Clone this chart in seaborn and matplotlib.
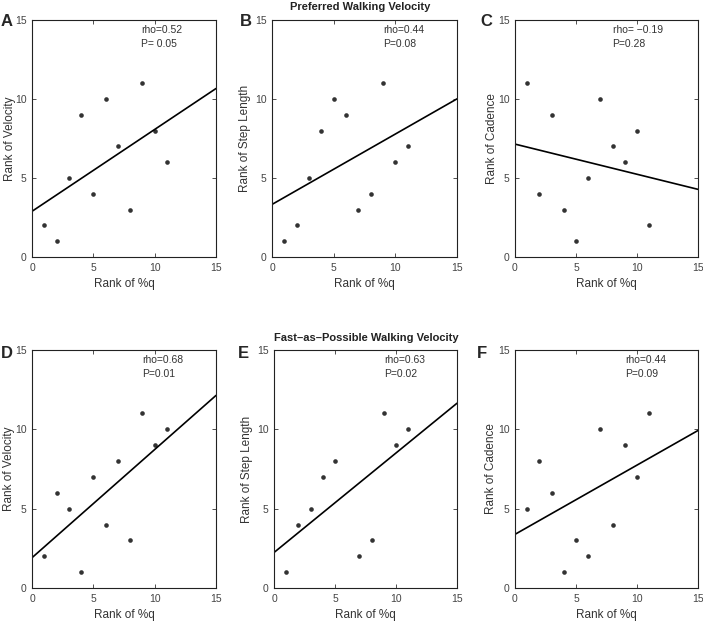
import matplotlib
matplotlib.use("Agg")
from matplotlib import pyplot as plt
import seaborn as sns
import pandas as pd

sns.set_style("ticks")
plt.rcParams['font.family'] = ['Liberation Sans', 'DejaVu Sans']

# rank data
x_pref = [1, 2, 3, 4, 5, 6, 7, 8, 9, 10, 11]
y_a = [2, 1, 5, 9, 4, 10, 7, 3, 11, 8, 6]
y_b = [1, 2, 5, 8, 10, 9, 3, 4, 11, 6, 7]
y_c = [11, 4, 9, 3, 1, 5, 10, 7, 6, 8, 2]
x_fast = [1, 2, 3, 4, 5, 6, 7, 8, 9, 10, 11]
y_d = [2, 6, 5, 1, 7, 4, 8, 3, 11, 9, 10]
x_e = [1, 2, 3, 4, 5, 7, 8, 9, 10, 11]
y_e = [1, 4, 5, 7, 8, 2, 3, 11, 9, 10]
y_f = [5, 8, 6, 1, 3, 2, 10, 4, 9, 7, 11]

letters = ['A', 'B', 'C', 'D', 'E', 'F']
ylabels = ['Rank of Velocity', 'Rank of Step Length', 'Rank of Cadence',
           'Rank of Velocity', 'Rank of Step Length', 'Rank of Cadence']
rho_txt = ['rho=0.52', 'rho=0.44', 'rho= \u22120.19', 'rho=0.68', 'rho=0.63', 'rho=0.44']
p_txt = ['P= 0.05', 'P=0.08', 'P=0.28', 'P=0.01', 'P=0.02', 'P=0.09']
titles = ['Preferred Walking Velocity', 'Fast\u2013as\u2013Possible Walking Velocity']

panels = [(x_pref, y_a), (x_pref, y_b), (x_pref, y_c),
          (x_fast, y_d), (x_e, y_e), (x_fast, y_f)]

W, H = 703, 623
fig = plt.figure(figsize=(W / 100, H / 100), dpi=100)

# axes boxes in pixels: left, top, right, bottom
boxes = [(32, 20, 216, 257), (272, 20, 457, 257), (515, 20, 698, 257),
         (32, 350, 216, 588), (274, 350, 457, 588), (515, 350, 698, 588)]
letter_pos = [(7, 22), (246, 22), (486, 22), (7, 353), (243, 353), (482, 353)]
ylab_x = [-0.087, -0.113, -0.093, -0.092, -0.115, -0.098]
text_x = [8.9, 9.05, 8.0, 8.95, 9.0, 9.05]

for i, (xs, ys) in enumerate(panels):
    l, t, r, b = boxes[i]
    ax = fig.add_axes([l / W, 1 - b / H, (r - l) / W, (b - t) / H])
    ax.set_xlim(0, 15)
    ax.set_ylim(0, 15)
    df = pd.DataFrame({'x': xs, 'y': ys})
    sns.regplot(data=df, x='x', y='y', ax=ax, ci=None, truncate=False,
                color='black',
                scatter_kws={'s': 11, 'linewidths': 0},
                line_kws={'lw': 1.2})
    ax.set_xlim(0, 15)
    ax.set_ylim(0, 15)
    ax.set_xticks([0, 5, 10, 15])
    ax.set_yticks([0, 5, 10, 15])
    ax.tick_params(direction='in', length=3, width=0.6, top=True, right=True,
                   labelsize=7.5, labelcolor='#444444', color='#333333', pad=4)
    for sp in ax.spines.values():
        sp.set_linewidth(0.8)
        sp.set_color('#222222')
    ax.set_xlabel('Rank of %q', fontsize=8.5, color='#333333', labelpad=4)
    ax.set_ylabel(ylabels[i], fontsize=8.5, color='#333333')
    ax.yaxis.set_label_coords(ylab_x[i], 0.5)
    ax.text(text_x[i], 13.9, rho_txt[i] + '\n' + p_txt[i], fontsize=7.5,
            color='#333333', va='center', ha='left', linespacing=1.5)
    fig.text(letter_pos[i][0] / W, 1 - letter_pos[i][1] / H, letters[i],
             fontsize=12, fontweight='bold', ha='center', va='center')

fig.text(360 / W, 1 - 7 / H, titles[0], fontsize=8, fontweight='bold',
         ha='center', va='center', color='#222222')
fig.text(366 / W, 1 - 338 / H, titles[1], fontsize=8, fontweight='bold',
         ha='center', va='center', color='#222222')

fig.savefig('out.png', dpi=100)
